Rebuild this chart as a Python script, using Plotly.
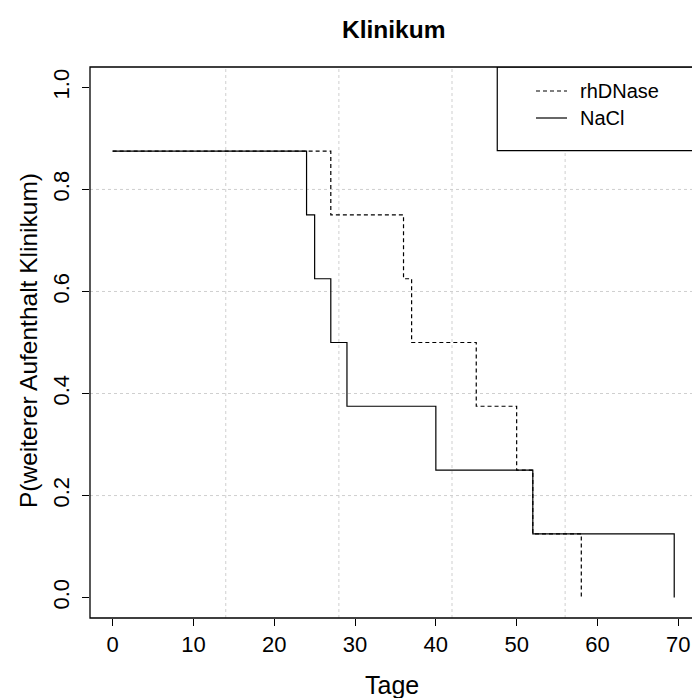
import plotly.graph_objects as go

# Kaplan-Meier step curves: time in days, survival probability after each event
series_names = ["rhDNase", "NaCl"]
rhdnase_days = [0, 27, 36, 37, 45, 50, 52, 58]
rhdnase_surv = [0.875, 0.75, 0.625, 0.5, 0.375, 0.25, 0.125, 0.0]
nacl_days = [0, 24, 25, 27, 29, 40, 52, 69.5]
nacl_surv = [0.875, 0.75, 0.625, 0.5, 0.375, 0.25, 0.125, 0.0]

x_ticks = [0, 10, 20, 30, 40, 50, 60, 70]
y_ticks = [0.0, 0.2, 0.4, 0.6, 0.8, 1.0]
y_ticklabels = ["0.0", "0.2", "0.4", "0.6", "0.8", "1.0"]
x_grid = [14, 28, 42, 56]          # weekly grid lines
y_grid = [0.2, 0.4, 0.6, 0.8]

title_text = "Klinikum"
x_title = "Tage"
y_title = "P(weiterer Aufenthalt Klinikum)"

W, H = 692, 698
ML, MR, MT, MB = 90, 0, 67, 80
PW, PH = W - ML - MR, H - MT - MB
FONT = "Liberation Sans, Arial, sans-serif"


def px_x(p):
    return (p - ML) / PW


def px_y(p):
    return (H - MB - p) / PH


fig = go.Figure()
fig.add_trace(go.Scatter(
    x=rhdnase_days, y=rhdnase_surv, mode="lines", line_shape="hv",
    name=series_names[0], line=dict(color="black", width=1.2, dash="4px,3px"),
    showlegend=False))
fig.add_trace(go.Scatter(
    x=nacl_days, y=nacl_surv, mode="lines", line_shape="hv",
    name=series_names[1], line=dict(color="black", width=1.2),
    showlegend=False))

shapes = []
grid_style = dict(color="#cfcfcf", width=1, dash="dot")
for gx in x_grid:
    shapes.append(dict(type="line", xref="x", yref="paper", x0=gx, x1=gx,
                       y0=0, y1=1, line=grid_style, layer="below"))
for gy in y_grid:
    shapes.append(dict(type="line", xref="paper", yref="y", x0=0, x1=1,
                       y0=gy, y1=gy, line=grid_style, layer="below"))

# legend box anchored to the top-right corner of the plot
shapes.append(dict(type="rect", xref="x", yref="y", x0=47.6, x1=80,
                   y0=0.876, y1=1.04, line=dict(color="black", width=1.2),
                   fillcolor="white", layer="below"))
# plot frame (open on the right side)
shapes.append(dict(type="rect", xref="paper", yref="paper", x0=0, x1=1.05,
                   y0=0, y1=1, line=dict(color="black", width=1.3)))

legend_rows = [(91, "4px,3px"), (118, "solid")]
annotations = []
for name, (row_y, dash) in zip(series_names, legend_rows):
    shapes.append(dict(type="line", xref="paper", yref="paper",
                       x0=px_x(536), x1=px_x(567), y0=px_y(row_y), y1=px_y(row_y),
                       line=dict(color="black", width=1.2, dash=dash)))
    annotations.append(dict(text=name, xref="paper", yref="paper",
                            x=px_x(578), y=px_y(row_y), xanchor="left",
                            yanchor="middle", showarrow=False,
                            font=dict(family=FONT, size=20, color="black")))

annotations += [
    dict(text="<b>" + title_text + "</b>", xref="paper", yref="paper",
         x=px_x(393), y=px_y(29), xanchor="center", yanchor="middle",
         showarrow=False, font=dict(family=FONT, size=24.5, color="black")),
    dict(text=x_title, xref="paper", yref="paper", x=px_x(392), y=px_y(685),
         xanchor="center", yanchor="middle", showarrow=False,
         font=dict(family=FONT, size=25, color="black")),
    dict(text=y_title, xref="paper", yref="paper", x=px_x(28), y=px_y(341),
         xanchor="center", yanchor="middle", textangle=-90, showarrow=False,
         font=dict(family=FONT, size=24.5, color="black")),
]

fig.update_layout(
    width=W, height=H,
    margin=dict(l=ML, r=MR, t=MT, b=MB),
    paper_bgcolor="white", plot_bgcolor="white",
    shapes=shapes, annotations=annotations,
    xaxis=dict(range=[-2.8, 71.7], tickvals=x_ticks, ticks="outside",
               ticklen=7, tickwidth=1.2, tickcolor="black", showgrid=False,
               zeroline=False, showline=False,
               tickfont=dict(family=FONT, size=22, color="black")),
    yaxis=dict(range=[-0.04, 1.04], tickvals=y_ticks, ticktext=y_ticklabels,
               ticks="outside", ticklen=7, tickwidth=1.2, tickcolor="black",
               tickangle=-90, showgrid=False, zeroline=False, showline=False,
               ticklabelstandoff=4,
               tickfont=dict(family=FONT, size=22, color="black")),
)

fig.write_html("out.html")
